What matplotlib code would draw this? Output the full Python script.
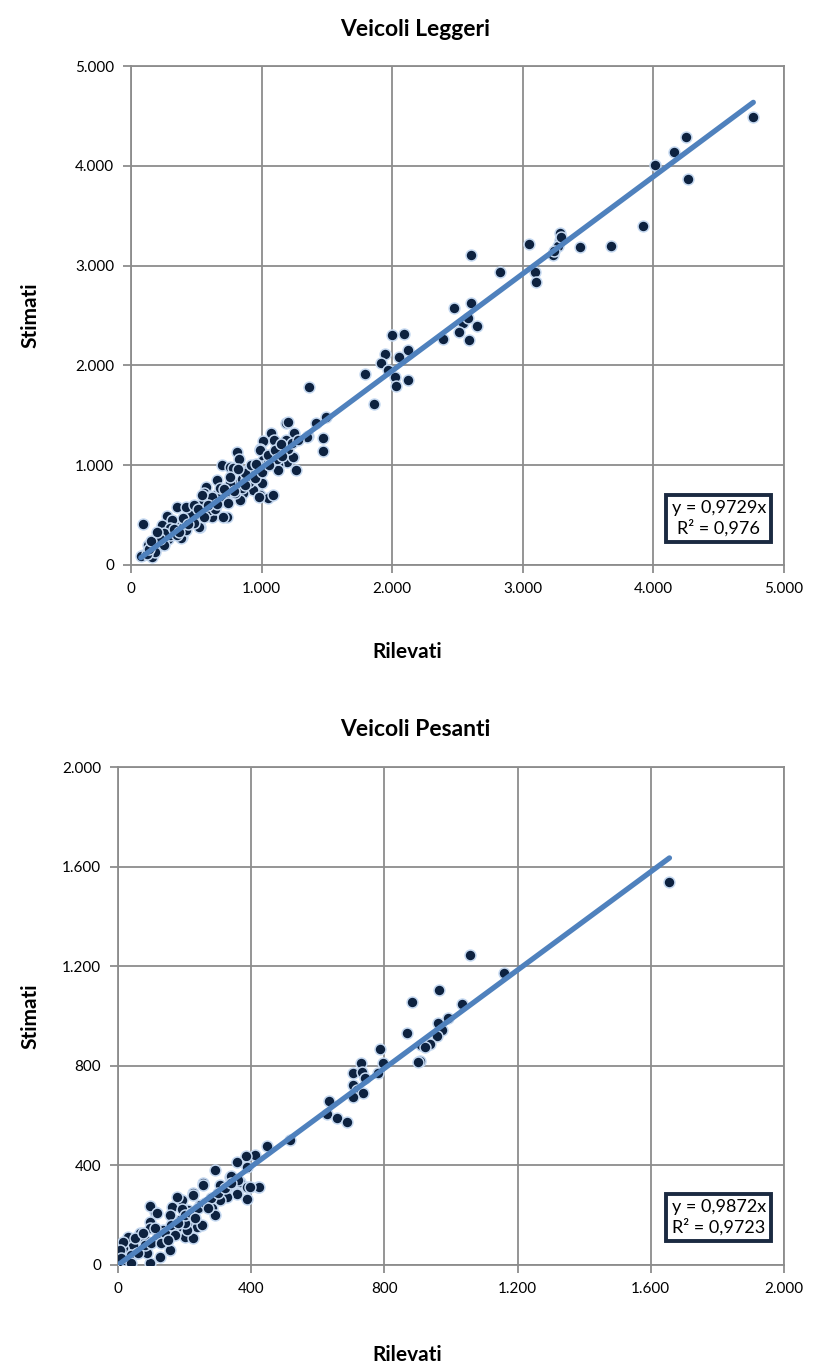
import matplotlib
matplotlib.use("Agg")
import matplotlib.pyplot as plt
from matplotlib.ticker import FuncFormatter, MultipleLocator

plt.rcParams['font.family'] = ['Lato', 'DejaVu Sans']

# Veicoli Leggeri: rilevati (x) / stimati (y)
leggeri_x = [4765, 4250, 4160, 4012, 4267, 3923, 3673, 3438, 3285, 3285,
             3270, 3231, 3047, 3093, 3099, 2825, 2606, 2473, 2606, 2649,
             2588, 2545, 2514, 2392, 2583, 2001, 2090, 2124, 1945, 2055,
             1912, 1792, 1970, 2021, 2027, 2118, 1863, 1363, 1187, 1248,
             1417, 1493, 1473, 1473, 1358, 1070, 1095, 1008, 1187, 1136,
             1243, 1192, 1123, 1261, 1238, 1179, 1345, 1200, 814, 827,
             988, 1026, 694, 758, 779, 988, 1013, 656, 574, 561,
             515, 465, 350, 273, 235, 94, 132, 158, 988, 1051,
             1090, 1005, 937, 860, 835, 733, 707, 618, 528, 388,
             312, 1128, 911, 886, 523, 381, 94, 983,
             75, 150, 180, 200, 220, 250, 280, 300, 320, 350,
             380, 400, 420, 450, 470, 500, 530, 550, 580, 600,
             620, 650, 680, 700, 720, 750, 780, 800, 830, 850,
             880, 900, 930, 950, 980, 1000, 1050, 1100, 1150, 1200,
             1230, 1280, 1050, 1100, 900, 870, 760, 650, 600, 550,
             450, 400, 300, 250, 200, 600, 700, 800, 900, 480,
             420, 350, 250, 180, 120, 140, 220, 680, 760, 820,
             920, 1150, 1120, 950, 1000, 560, 640, 740, 850, 150,
             200, 420, 480, 620, 540, 330, 370, 440, 510, 590,
             660, 710, 790, 870, 960, 1060, 1160, 3290, 3240]
leggeri_y = [4490, 4286, 4138, 4005, 3868, 3397, 3199, 3189, 3330, 3257,
             3200, 3106, 3220, 2936, 2839, 2936, 3106, 2572, 2622, 2395,
             2251, 2422, 2331, 2262, 2472, 2305, 2312, 2157, 2114, 2081,
             2027, 1911, 1954, 1881, 1794, 1854, 1616, 1787, 1420, 1326,
             1426, 1480, 1276, 1146, 1293, 1320, 1253, 1243, 1253, 1170,
             1085, 1035, 1002, 952, 1085, 1185, 1286, 1430, 1136, 1059,
             1160, 1052, 1002, 985, 969, 1152, 1052, 852, 785, 718,
             584, 568, 584, 491, 401, 411, 200, 83, 701, 668,
             701, 819, 752, 718, 651, 484, 484, 484, 384, 284,
             451, 952, 919, 852, 378, 267, 100, 684,
             90, 150, 170, 220, 200, 250, 260, 300, 330, 320,
             390, 380, 430, 440, 470, 480, 510, 540, 570, 610,
             590, 640, 660, 700, 690, 740, 770, 790, 820, 860,
             850, 890, 900, 940, 950, 990, 1020, 1080, 1120, 1160,
             1220, 1250, 1100, 1150, 960, 920, 820, 700, 680, 620,
             520, 470, 370, 320, 280, 550, 640, 720, 830, 420,
             350, 300, 200, 130, 110, 160, 260, 770, 880, 960,
             1000, 1210, 1060, 870, 930, 480, 560, 620, 770, 240,
             330, 580, 600, 680, 700, 360, 330, 410, 560, 600,
             610, 760, 740, 800, 1010, 1000, 1090, 3290, 3150]

# Veicoli Pesanti
pesanti_x = [1656, 1057, 1159, 965, 882, 1032, 992, 960, 972, 957,
             937, 909, 922, 907, 867, 787, 797, 902, 729, 707,
             732, 742, 705, 717, 737, 707, 782, 634, 629, 659,
             689, 517, 447, 411, 384, 356, 386, 421, 336, 366,
             386, 356, 291, 338, 256, 306, 424, 386, 358, 326,
             361, 226, 246, 281, 291, 211, 236, 201, 226, 161,
             111, 96, 96, 156, 186, 146, 121, 81, 46, 16,
             4, 6, 26, 96, 126, 86, 56, 176, 211, 191,
             176, 208, 126, 66, 31, 96, 161, 116, 191, 226,
             256, 251, 156, 16, 51, 76, 6, 16, 396, 326,
             306, 201, 136, 20, 40, 60, 80, 100, 120, 140,
             160, 180, 200, 220, 240, 260, 280, 300, 320, 340,
             40, 10, 130, 170, 230, 270, 110, 150]
pesanti_y = [1537, 1244, 1174, 1104, 1057, 1048, 991, 971, 944, 920,
             886, 884, 877, 819, 930, 866, 810, 817, 810, 772,
             776, 750, 723, 703, 690, 676, 770, 660, 605, 589,
             576, 502, 478, 442, 438, 415, 395, 314, 355, 335,
             314, 288, 382, 357, 328, 321, 312, 264, 285, 274,
             341, 288, 241, 228, 201, 167, 154, 114, 107, 234,
             214, 237, 174, 201, 181, 134, 114, 100, 80, 67,
             53, 7, 7, 7, 33, 47, 47, 154, 221, 261,
             274, 141, 127, 127, 114, 147, 141, 208, 224, 281,
             321, 161, 60, 94, 107, 127, 60, 7, 314, 314,
             261, 167, 141, 20, 40, 50, 80, 90, 120, 130,
             160, 170, 200, 210, 230, 250, 270, 290, 310, 330,
             10, 30, 90, 120, 190, 230, 150, 100]

leggeri_slope = 0.9729
pesanti_slope = 0.9872
leggeri_eq = "y = 0,9729x\nR² = 0,976"
pesanti_eq = "y = 0,9872x\nR² = 0,9723"


def it_fmt(v, pos):
    return f"{int(round(v)):,}".replace(",", ".")


def draw(ax, xs, ys, slope, eq, lim, step, box_xy):
    ax.scatter(xs, ys, s=62, c="#0d2240", edgecolors="#c6d9f1",
               linewidths=1.1, zorder=3)
    x0, x1 = min(xs), max(xs)
    ax.plot([x0, x1], [slope * x0, slope * x1], color="#4f81bd",
            lw=3.8, solid_capstyle="round", zorder=4)
    ax.set_xlim(0, lim)
    ax.set_ylim(0, lim)
    ax.xaxis.set_major_locator(MultipleLocator(step))
    ax.yaxis.set_major_locator(MultipleLocator(step))
    ax.xaxis.set_major_formatter(FuncFormatter(it_fmt))
    ax.yaxis.set_major_formatter(FuncFormatter(it_fmt))
    ax.grid(True, color="#8c8c8c", lw=1.3)
    ax.set_axisbelow(True)
    for s in ax.spines.values():
        s.set_color("#8c8c8c")
        s.set_linewidth(1.3)
    ax.tick_params(direction="out", length=6, width=1.3, color="#8c8c8c",
                   labelsize=11, pad=6)
    ax.text(box_xy[0], box_xy[1], eq, transform=ax.transAxes,
            ha="center", va="center", fontsize=13, linespacing=1.2,
            bbox=dict(boxstyle="square,pad=0.3", fc="white",
                      ec="#1b2a41", lw=2.8), zorder=5)


fig = plt.figure(figsize=(8.14, 13.65), dpi=100)
ax1 = fig.add_axes([131 / 814, 1 - 565 / 1365, 653 / 814, 499 / 1365])
ax2 = fig.add_axes([118 / 814, 1 - 1265 / 1365, 666 / 814, 498 / 1365])

draw(ax1, leggeri_x, leggeri_y, leggeri_slope, leggeri_eq, 5000, 1000,
     (0.900, 0.094))
draw(ax2, pesanti_x, pesanti_y, pesanti_slope, pesanti_eq, 2000, 400,
     (0.902, 0.096))

bold = dict(fontweight="bold", ha="center", va="center")
fig.text(415 / 814, 1 - 30 / 1365, "Veicoli Leggeri", fontsize=16.5, **bold)
fig.text(407 / 814, 1 - 652 / 1365, "Rilevati", fontsize=15, **bold)
fig.text(30 / 814, 1 - 315 / 1365, "Stimati", fontsize=15, rotation=90, **bold)
fig.text(415 / 814, 1 - 730 / 1365, "Veicoli Pesanti", fontsize=16.5, **bold)
fig.text(407 / 814, 1 - 1355 / 1365, "Rilevati", fontsize=15, **bold)
fig.text(30 / 814, 1 - 1016 / 1365, "Stimati", fontsize=15, rotation=90, **bold)

fig.savefig("out.png", dpi=100)
